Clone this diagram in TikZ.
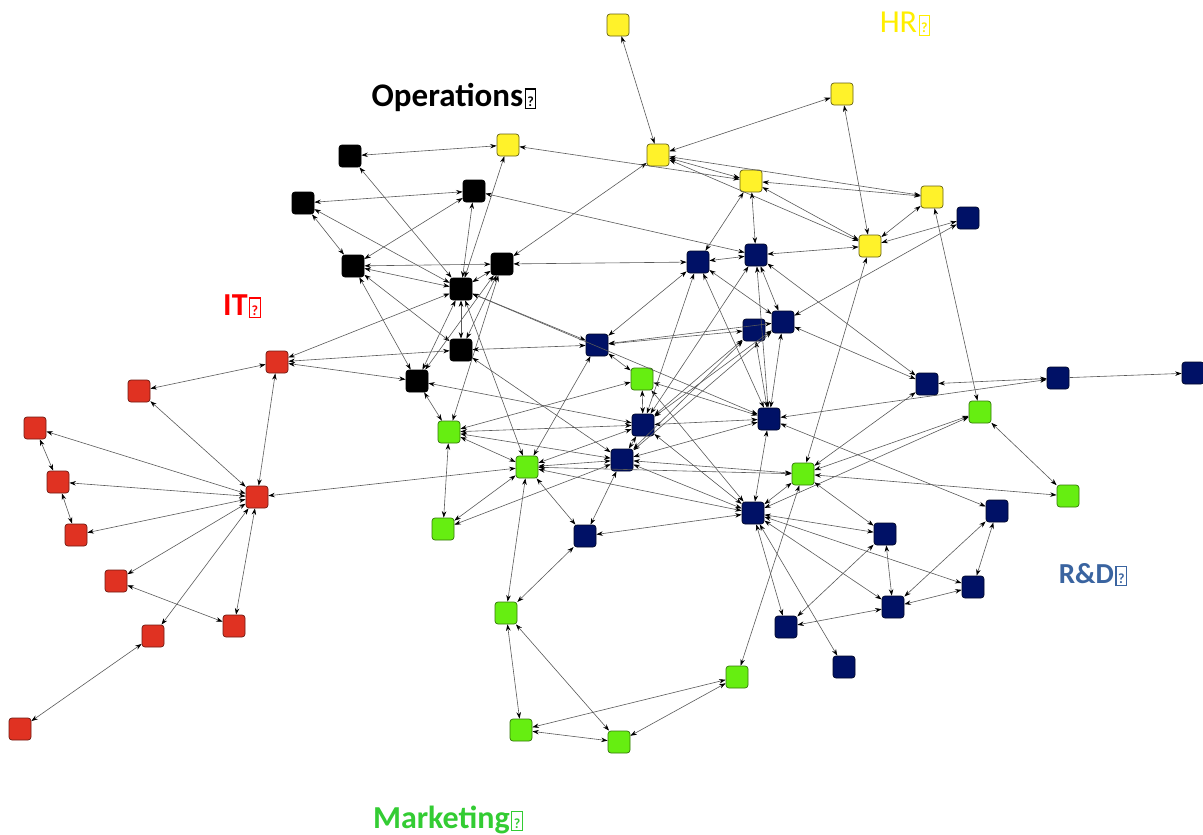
\documentclass[tikz,border=0pt]{standalone}
\usepackage{fontspec}
\setmainfont{Carlito}
\usetikzlibrary{arrows.meta}
\newcommand{\qbx}{\kern1.5pt{\setlength\fboxsep{1.5pt}\setlength\fboxrule{1.1pt}\fbox{\rule{0pt}{15pt}\fontsize{14}{14}\selectfont\bfseries ?}}}
\definecolor{cyel}{HTML}{FFF22A}
\definecolor{cblk}{HTML}{000000}
\definecolor{cred}{HTML}{E03222}
\definecolor{cnav}{HTML}{001166}
\definecolor{cgrn}{HTML}{66EE11}
\definecolor{crd}{HTML}{3A64A0}
\definecolor{cmk}{HTML}{33CC33}
\definecolor{chr}{HTML}{FFEE00}
\tikzset{
  nd/.style={rectangle,rounded corners=3pt,minimum size=22pt,inner sep=0pt,line width=0.7pt},
  ny/.style={nd,fill=cyel,draw=black!60!cyel},
  nb/.style={nd,fill=cblk,draw=black},
  nr/.style={nd,fill=cred,draw=black!50!cred},
  nn/.style={nd,fill=cnav,draw=black!60!cnav},
  ng/.style={nd,fill=cgrn,draw=black!50!cgrn},
  edge/.style={draw=black!65,line width=0.6pt,{Stealth[length=6.5pt,width=4.5pt,black]}-{Stealth[length=6.5pt,width=4.5pt,black]}},
  oneway/.style={draw=black!65,line width=0.6pt,-{Stealth[length=6.5pt,width=4.5pt,black]}},
  lab/.style={inner sep=0pt,font=\fontsize{32}{35}\selectfont}
}
\begin{document}
\begin{tikzpicture}[x=1pt,y=-1pt]
\useasboundingbox (0,0) rectangle (1203,835);
% labels
\node[lab,font=\fontsize{33}{36}\selectfont\bfseries] (lop) at (454,97) {Operations\qbx};
\node[lab,text=chr] (lhr) at (905,24) {HR\qbx};
\node[lab,text=red,font=\fontsize{32}{35}\selectfont\bfseries] (lit) at (242,306) {IT\qbx};
\node[lab,text=crd,font=\fontsize{29}{32}\selectfont\bfseries] (lrd) at (1093,575) {R\&D\qbx};
\node[lab,text=cmk,font=\fontsize{32}{35}\selectfont\bfseries] (lmk) at (448,820) {Marketing\qbx};
% yellow
\node[ny] (Y1) at (618,25) {};
\node[ny] (Y2) at (842,94) {};
\node[ny] (Y3) at (508,145) {};
\node[ny] (Y4) at (658,155) {};
\node[ny] (Y5) at (751,181) {};
\node[ny] (Y6) at (932,197) {};
\node[ny] (Y7) at (870,246) {};
% black
\node[nb] (B1) at (350,156) {};
\node[nb] (B2) at (474,191) {};
\node[nb] (B3) at (303,203) {};
\node[nb] (B4) at (353,266) {};
\node[nb] (B5) at (502,264) {};
\node[nb] (B6) at (461,289) {};
\node[nb] (B7) at (461,350) {};
\node[nb] (B8) at (417,381) {};
% red
\node[nr] (R1) at (277,362) {};
\node[nr] (R2) at (139,391) {};
\node[nr] (R3) at (35,428) {};
\node[nr] (R4) at (58,482) {};
\node[nr] (R5) at (257,497) {};
\node[nr] (R6) at (76,535) {};
\node[nr] (R7) at (116,581) {};
\node[nr] (R8) at (234,626) {};
\node[nr] (R9) at (153,636) {};
\node[nr] (R10) at (20,729) {};
% navy
\node[nn] (N1) at (968,218) {};
\node[nn] (N2) at (698,262) {};
\node[nn] (N3) at (756,255) {};
\node[nn] (N4) at (783,322) {};
\node[nn] (N5) at (754,330) {};
\node[nn] (N6) at (597,345) {};
\node[nn] (N7) at (927,384) {};
\node[nn] (N8) at (1058,378) {};
\node[nn] (N9) at (1193,373) {};
\node[nn] (N10) at (769,419) {};
\node[nn] (N11) at (643,425) {};
\node[nn] (N12) at (622,460) {};
\node[nn] (N13) at (753,513) {};
\node[nn] (N14) at (585,536) {};
\node[nn] (N15) at (885,534) {};
\node[nn] (N16) at (997,511) {};
\node[nn] (N17) at (973,587) {};
\node[nn] (N18) at (893,607) {};
\node[nn] (N19) at (786,627) {};
\node[nn] (N20) at (844,667) {};
% green
\node[ng] (G1) at (642,379) {};
\node[ng] (G2) at (980,412) {};
\node[ng] (G3) at (449,432) {};
\node[ng] (G4) at (527,467) {};
\node[ng] (G5) at (803,474) {};
\node[ng] (G6) at (1068,496) {};
\node[ng] (G7) at (443,529) {};
\node[ng] (G8) at (506,613) {};
\node[ng] (G9) at (737,677) {};
\node[ng] (G10) at (521,730) {};
\node[ng] (G11) at (619,742) {};
% edges
\foreach \a/\b in {R1/R2,R1/R5,R2/R5,R3/R5,R3/R4,R4/R5,R4/R6,R6/R5,R7/R5,R9/R5,R8/R5,R7/R8,R9/R10,R5/G4,R1/B6,R1/B7,R1/B8,
  B1/Y3,B1/B6,B3/B2,B4/B2,B3/B4,B3/B6,B4/B5,B4/B6,B4/B7,B2/B6,B6/Y3,B6/B5,B6/B7,B6/B8,B5/B7,B5/B8,B4/B8,B6/G4,B5/G3,B7/N12,B8/N11,B6/N6,B6/N10,B7/N6,B5/N2,B5/Y4,B2/N3,B8/G3,
  Y1/Y4,Y2/Y4,Y2/Y7,Y4/Y5,Y4/Y6,Y4/Y7,Y5/Y6,Y5/Y7,Y6/Y7,Y7/N1,N3/Y7,Y5/N2,N3/Y5,Y6/G2,Y7/G5,Y3/Y5,
  N2/N3,N2/N6,N2/N4,N2/N10,N3/N4,N3/N10,N3/N7,N4/N10,N5/N10,N6/N5,N6/N4,N4/N7,N7/N8,N8/N10,N1/N4,N7/G5,
  G2/G5,G2/N13,G2/G6,N10/N16,G5/G6,N12/G5,G4/G5,G5/N13,G5/G9,G5/N15,
  N13/N15,N13/N17,N13/N18,N13/N19,N13/N20,N15/N18,N15/N19,N16/N17,N16/N18,N17/N18,N18/N19,
  N14/N13,N12/N14,G4/N14,N14/G8,G4/G8,G3/G7,G4/G7,G7/N12,G3/G4,G3/N11,G3/G1,G3/N12,G4/N12,G4/N11,G4/N13,
  N6/G4,N6/G1,G1/N11,G1/N10,G1/N13,N11/N10,N12/N10,N11/N4,N11/N5,N11/N3,N11/N2,N12/N11,N12/N5,N12/N4,N12/N13,N11/N13,N10/N13,
  G8/G10,G8/G11,G10/G11,G10/G9,G11/G9}
  \draw[edge] (\a) -- (\b);
\draw[oneway] (N8) -- (N9);
\end{tikzpicture}
\end{document}
